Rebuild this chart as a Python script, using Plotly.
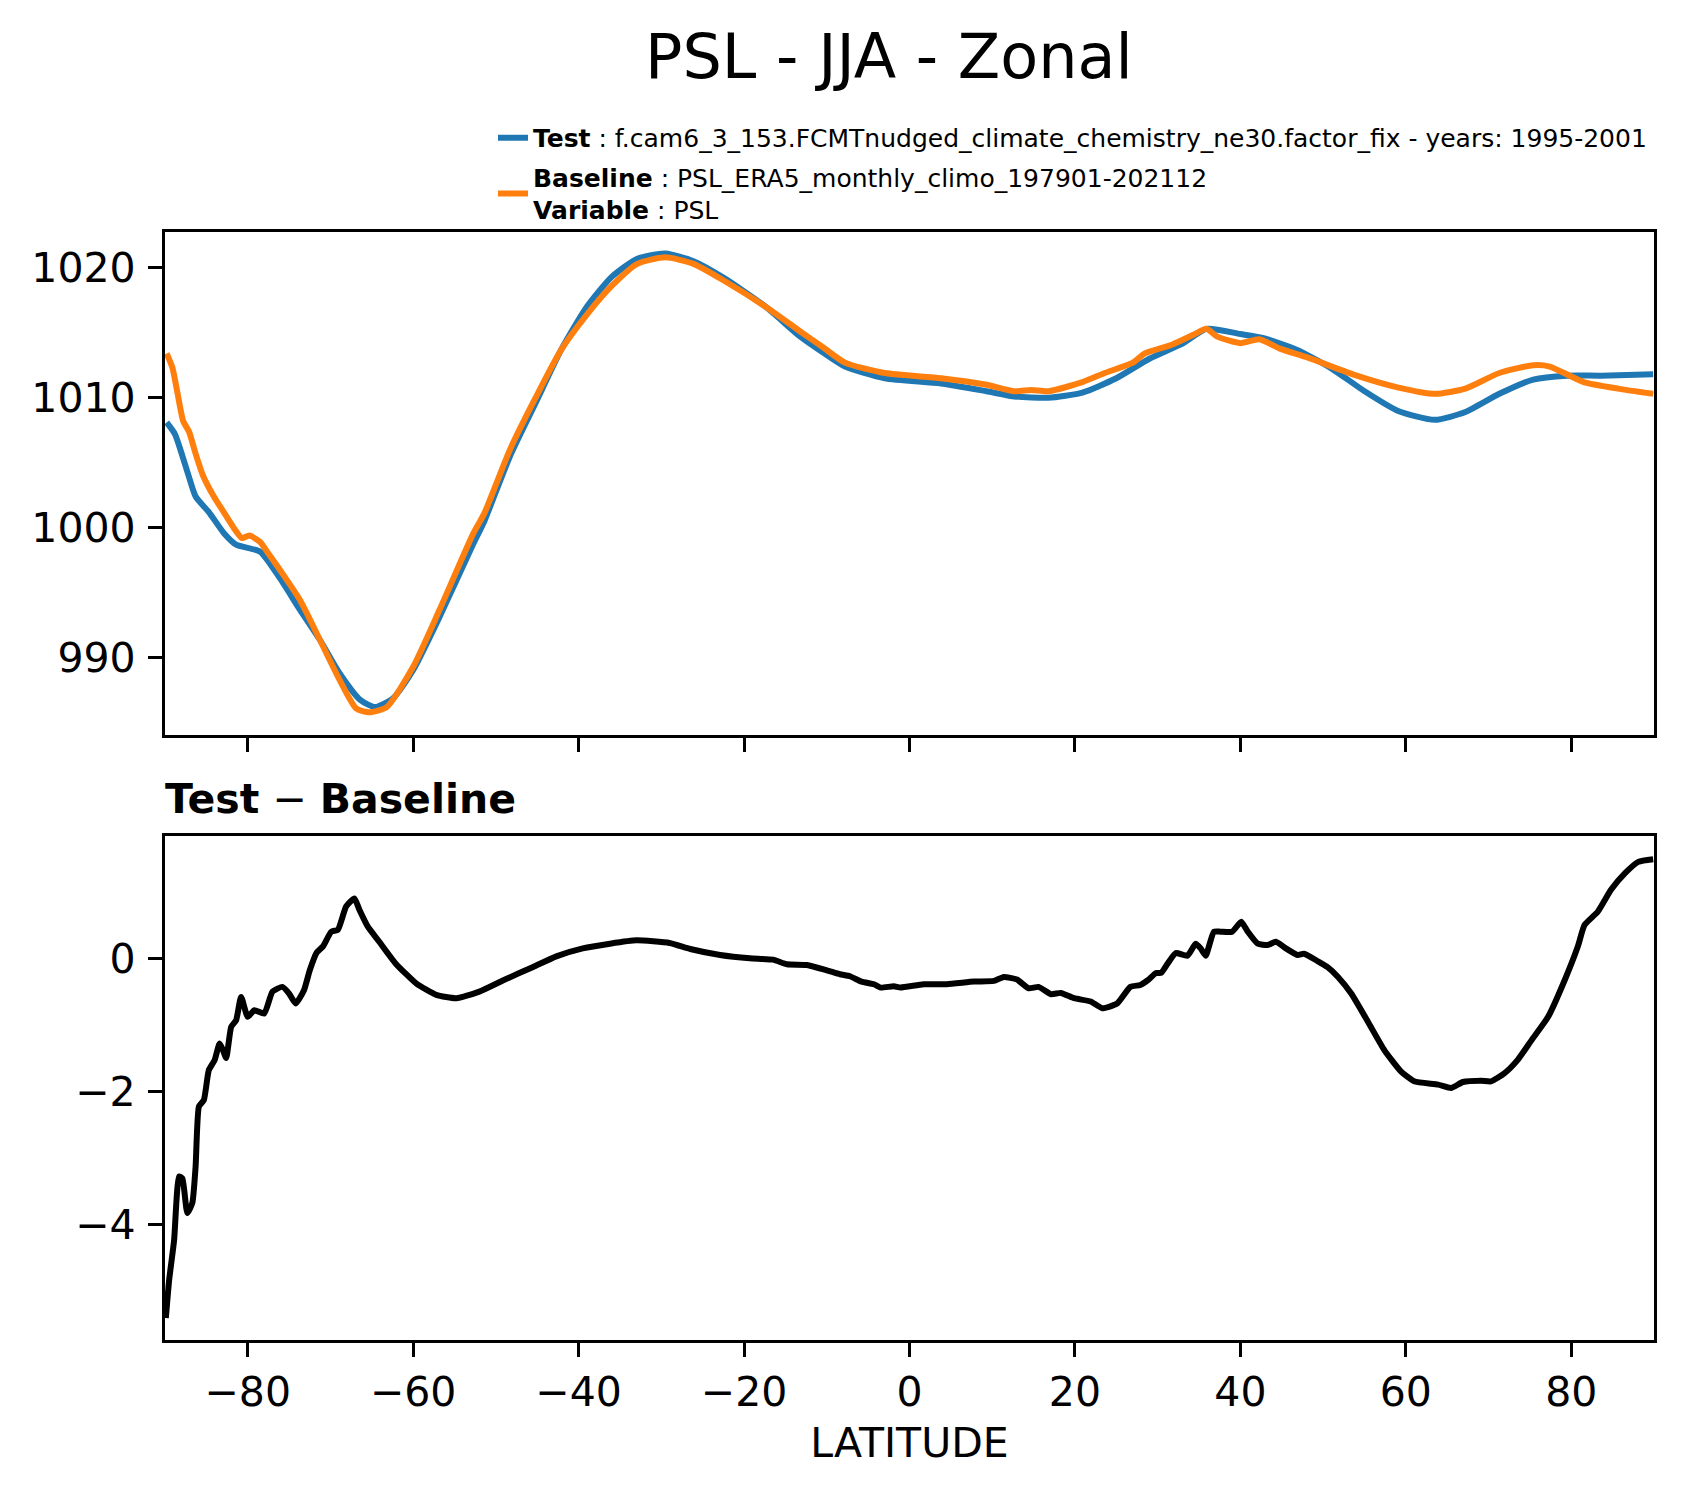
import plotly.graph_objects as go

# zonal mean sea level pressure (hPa), JJA
test_lat = [-89.8, -88.8, -87.2, -86.3, -84.7, -82.9, -81.4, -78.5, -76.1, -73.7,
            -71.3, -68.9, -66.4, -64.6, -62.4, -60.0, -56.8, -52.7, -51.4, -48.3,
            -45.2, -42.1, -39.0, -36.0, -32.9, -29.5, -26.1, -22.4, -17.4, -13.2,
            -10.5, -7.8, -3.0, 3.8, 9.3, 12.7, 16.8, 20.9, 25.0, 29.0,
            33.1, 35.9, 40.0, 42.7, 46.8, 50.9, 55.0, 59.0, 63.5, 67.2,
            71.3, 75.4, 79.5, 83.6, 89.9]
test_psl = [1008.1, 1007.2, 1004.1, 1002.4, 1001.2, 999.6, 998.7, 998.15, 996.1, 993.7,
            991.4, 988.8, 986.75, 986.2, 986.9, 989.05, 993.15, 998.8, 1000.5, 1005.5,
            1009.6, 1013.7, 1017.0, 1019.3, 1020.7, 1021.1, 1020.5, 1019.2, 1017.0, 1014.7,
            1013.5, 1012.4, 1011.5, 1011.1, 1010.5, 1010.1, 1010.0, 1010.4, 1011.5, 1013.0,
            1014.2, 1015.3, 1014.9, 1014.6, 1013.7, 1012.3, 1010.5, 1009.0, 1008.3, 1008.9,
            1010.3, 1011.4, 1011.7, 1011.7, 1011.8]

base_lat = [-89.8, -89.1, -88.5, -87.8, -87.1, -86.3, -85.4, -84.1, -82.9, -81.7,
            -80.7, -79.8, -78.5, -77.6, -76.1, -73.7, -71.3, -68.9, -66.9, -65.3,
            -63.2, -60.0, -56.8, -52.7, -51.4, -48.3, -45.2, -42.1, -39.0,
            -36.0, -32.9, -29.5, -26.1, -22.4, -17.4, -13.2, -10.5, -7.8, -3.0,
            3.8, 9.3, 12.7, 14.7, 16.8, 20.9, 23.6, 27.0, 28.4, 31.8,
            34.5, 35.9, 37.2, 40.0, 42.3, 44.7, 48.1, 53.6, 59.0, 63.5,
            67.2, 71.3, 75.4, 77.4, 81.5, 85.6, 89.9]
base_psl = [1013.4, 1012.3, 1010.4, 1008.2, 1007.4, 1005.7, 1004.0, 1002.4, 1001.2, 1000.0,
            999.2, 999.4, 998.9, 998.1, 996.75, 994.45, 991.4, 988.3, 986.1, 985.8,
            986.2, 989.3, 993.7, 999.6, 1001.1, 1006.0, 1010.0, 1013.7, 1016.4,
            1018.6, 1020.3, 1020.8, 1020.3, 1019.0, 1017.0, 1015.1, 1013.9, 1012.7, 1011.9,
            1011.5, 1011.0, 1010.5, 1010.6, 1010.5, 1011.2, 1011.9, 1012.7, 1013.4, 1014.1,
            1014.9, 1015.3, 1014.7, 1014.2, 1014.5, 1013.8, 1013.1, 1011.8, 1010.8, 1010.3,
            1010.7, 1011.9, 1012.5, 1012.4, 1011.2, 1010.7, 1010.3]

# test minus baseline
diff_lat = [-89.9, -89.5, -88.9, -88.3, -87.9, -87.3, -86.7, -86.3, -85.9, -85.3,
            -84.7, -84.0, -83.4, -83.0, -82.6, -82.0, -81.4, -80.8, -80.0, -79.2,
            -78.0, -77.0, -75.8, -75.0, -74.2, -73.2, -72.5, -71.7, -70.9, -69.9,
            -69.1, -68.1, -67.1, -66.5, -65.5, -64.1, -62.1, -59.6, -57.2, -54.8,
            -52.0, -49.1, -45.5, -42.7, -39.5, -36.2, -33.0, -29.0, -26.5, -22.9,
            -19.3, -16.5, -14.8, -12.4, -10.0, -8.4, -7.2, -5.8, -4.3, -3.5,
            -1.9, -1.1, 1.7, 4.5, 7.8, 10.2, 11.4, 13.0, 14.4, 15.6,
            17.1, 18.3, 19.9, 21.9, 23.3, 25.1, 26.7, 27.9, 28.8, 29.8,
            30.4, 31.2, 32.2, 33.6, 34.6, 35.2, 35.8, 36.8, 37.6, 39.0,
            40.1, 40.9, 42.1, 43.3, 44.3, 45.5, 46.9, 47.7, 49.3, 50.5,
            51.8, 53.4, 55.4, 57.4, 59.4, 61.0, 63.9, 65.5, 66.9, 69.1,
            70.3, 71.9, 73.5, 75.2, 77.2, 79.2, 80.8, 81.6, 83.2, 84.8,
            86.5, 88.1, 89.9]
diff_psl = [-5.41, -4.84, -4.24, -3.28, -3.31, -3.83, -3.68, -3.13, -2.23, -2.13,
            -1.68, -1.53, -1.28, -1.38, -1.50, -1.03, -0.93, -0.58, -0.88, -0.78,
            -0.83, -0.50, -0.43, -0.53, -0.68, -0.48, -0.18, 0.08, 0.18, 0.40,
            0.43, 0.78, 0.90, 0.73, 0.48, 0.25, -0.08, -0.38, -0.55, -0.60,
            -0.50, -0.33, -0.13, 0.03, 0.15, 0.22, 0.27, 0.23, 0.14, 0.05,
            0.00, -0.02, -0.09, -0.10, -0.18, -0.24, -0.27, -0.35, -0.39, -0.44,
            -0.42, -0.44, -0.39, -0.39, -0.35, -0.34, -0.28, -0.32, -0.45, -0.43,
            -0.54, -0.52, -0.60, -0.65, -0.75, -0.68, -0.43, -0.40, -0.33, -0.22,
            -0.22, -0.08, 0.08, 0.04, 0.22, 0.15, 0.04, 0.40, 0.40, 0.40,
            0.55, 0.40, 0.22, 0.20, 0.25, 0.15, 0.05, 0.07, -0.04, -0.13,
            -0.28, -0.53, -0.95, -1.38, -1.70, -1.85, -1.90, -1.95, -1.86, -1.84,
            -1.85, -1.73, -1.53, -1.23, -0.88, -0.33, 0.18, 0.50, 0.70, 1.03,
            1.28, 1.45, 1.49]

lat_ticks = [-80, -60, -40, -20, 0, 20, 40, 60, 80]

FONT = "DejaVu Sans"
test_name = ("<b>Test</b> : f.cam6_3_153.FCMTnudged_climate_chemistry_ne30.factor_fix"
             " - years: 1995-2001")
base_name = "<b>Baseline</b> : PSL_ERA5_monthly_climo_197901-202112<br><b>Variable</b> : PSL"

fig = go.Figure()
fig.add_trace(go.Scatter(x=test_lat, y=test_psl, mode="lines", name=test_name,
                         legendgroup="test",
                         line=dict(color="#1f77b4", width=6, shape="spline", smoothing=0.6),
                         xaxis="x", yaxis="y"))
fig.add_trace(go.Scatter(x=base_lat, y=base_psl, mode="lines", name=base_name,
                         legendgroup="base",
                         line=dict(color="#ff7f0e", width=6, shape="spline", smoothing=0.6),
                         xaxis="x", yaxis="y"))
fig.add_trace(go.Scatter(x=diff_lat, y=diff_psl, mode="lines", showlegend=False,
                         line=dict(color="black", width=6, shape="spline", smoothing=0.5),
                         xaxis="x2", yaxis="y2"))

axis_style = dict(showline=True, linecolor="black", linewidth=3.3, mirror=True,
                  ticks="outside", ticklen=14, tickwidth=3.3, tickcolor="black",
                  showgrid=False, zeroline=False,
                  tickfont=dict(family=FONT, size=41, color="black"))

# the page body keeps an 8px margin, so the figure is 8px smaller than the window
fig.update_layout(
    width=1675, height=1488,
    paper_bgcolor="white", plot_bgcolor="white",
    margin=dict(l=157, r=29, t=224, b=156),
    font=dict(family=FONT, color="black"),
    title=dict(text="PSL - JJA - Zonal", x=0.4862, xref="paper", xanchor="center",
               y=1 - 48 / 1488, yanchor="middle",
               font=dict(family=FONT, size=62, color="black")),
    xaxis=dict(domain=[0, 1], anchor="y", range=[-90, 90], tickvals=lat_ticks,
               showticklabels=False, **axis_style),
    yaxis=dict(domain=[0.546, 1], anchor="x", range=[984.05, 1022.75],
               tickvals=[990, 1000, 1010, 1020], ticklabelstandoff=4, **axis_style),
    xaxis2=dict(domain=[0, 1], anchor="y2", range=[-90, 90], tickvals=lat_ticks,
                title=dict(text="LATITUDE", standoff=13,
                           font=dict(family=FONT, size=41, color="black")),
                **axis_style),
    yaxis2=dict(domain=[0, 0.4549], anchor="x2", range=[-5.74, 1.84],
                tickvals=[-4, -2, 0], ticklabelstandoff=4, **axis_style),
    legend=dict(x=0.2203, y=1.1056, xanchor="left", yanchor="top",
                bgcolor="rgba(0,0,0,0)", tracegroupgap=4, valign="middle",
                font=dict(family=FONT, size=25, color="black")),
    annotations=[dict(text="<b>Test</b> − <b>Baseline</b>", xref="paper", yref="paper",
                      x=-0.0013, y=0.488, xanchor="left", yanchor="middle",
                      showarrow=False, font=dict(family=FONT, size=41, color="black"))],
)

fig.write_html("out.html")
